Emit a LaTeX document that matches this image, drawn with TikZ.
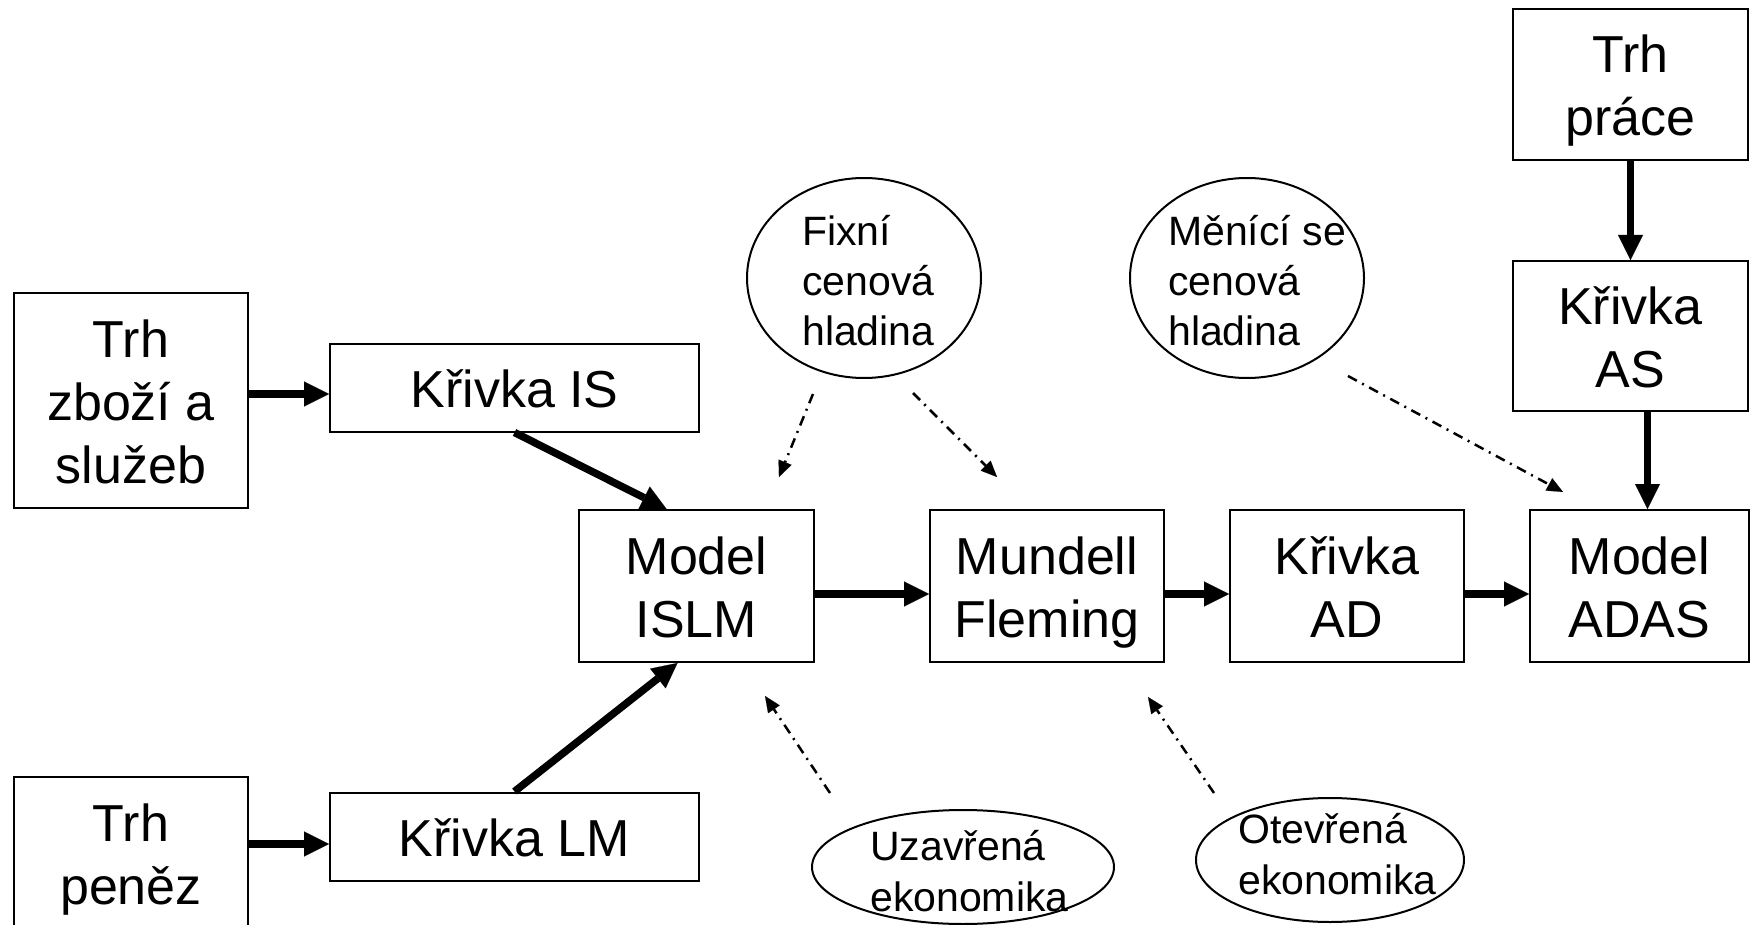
\documentclass[tikz,border=0pt]{standalone}
\usepackage{fontspec}
\setmainfont{Liberation Sans}
\usetikzlibrary{arrows.meta,shapes.geometric,calc}
\newcommand\boxstrut{\vrule height 51pt depth 12pt width 0pt}
\newcommand\ovstrut{\vrule height 40pt depth 10pt width 0pt}
\begin{document}
\begin{tikzpicture}[x=1pt,y=-1pt,
  box/.style={draw, line width=2pt, inner sep=0pt, align=center, font=\fontsize{52}{63}\selectfont},
  oval/.style={draw, ellipse, line width=2pt, inner sep=0pt},
  otext/.style={inner sep=0pt, anchor=west, align=left, font=\fontsize{41}{50}\selectfont},
  bigarrow/.style={line width=7.5pt, -{Triangle[length=25pt,width=25pt,line width=0.1pt]}},
  dotarrow/.style={line width=2.5pt, dash pattern=on 10pt off 6pt on 2pt off 6pt, -{Triangle[length=16pt,width=14pt,line width=0.1pt]}},
]
\useasboundingbox (0,0) rectangle (1751,925);

% boxes
\node[box, minimum width=234pt, minimum height=215pt] (tz) at (131,400.5) {\boxstrut Trh\\ \boxstrut zboží a\\ \boxstrut služeb};
\node[box, minimum width=234pt, minimum height=152pt] (tp) at (131,853) {\boxstrut Trh\\ \boxstrut peněz};
\node[box, minimum width=369pt, minimum height=88pt] (is) at (514.5,387.5) {\boxstrut Křivka IS};
\node[box, minimum width=369pt, minimum height=88pt] (lm) at (514.5,836.5) {\boxstrut Křivka LM};
\node[box, minimum width=235pt, minimum height=152pt] (islm) at (696.5,586) {\boxstrut Model\\ \boxstrut ISLM};
\node[box, minimum width=234pt, minimum height=152pt] (mf) at (1047,586) {\boxstrut Mundell\\ \boxstrut Fleming};
\node[box, minimum width=234pt, minimum height=152pt] (ad) at (1347,586) {\boxstrut Křivka\\ \boxstrut AD};
\node[box, minimum width=219pt, minimum height=152pt] (adas) at (1639.5,586) {\boxstrut Model\\ \boxstrut ADAS};
\node[box, minimum width=235pt, minimum height=151pt] (tpr) at (1630.5,84.5) {\boxstrut Trh\\ \boxstrut práce};
\node[box, minimum width=235pt, minimum height=150pt] (as) at (1630.5,336) {\boxstrut Křivka\\ \boxstrut AS};

% ovals
\node[oval, minimum width=234pt, minimum height=200pt] (fix) at (864,278) {};
\node[oval, minimum width=234pt, minimum height=200pt] (men) at (1247,278) {};
\node[oval, minimum width=302pt, minimum height=114pt] (uz) at (963,867) {};
\node[oval, minimum width=268pt, minimum height=124pt] (ot) at (1330,860) {};

\node[otext] (fixt) at (802,280) {\ovstrut Fixní\\ \ovstrut cenová\\ \ovstrut hladina};
\node[otext] (ment) at (1168,280) {\ovstrut Měnící se\\ \ovstrut cenová\\ \ovstrut hladina};
\node[otext, font=\fontsize{41}{45}\selectfont] (uzt) at (870,870.5) {\ovstrut Uzavřená\\ \ovstrut ekonomika};
\node[otext, font=\fontsize{41}{45}\selectfont] (ott) at (1238,854) {\ovstrut Otevřená\\ \ovstrut ekonomika};

% thick arrows
\draw[bigarrow] ($(tz.east)+(0,-6.5)$) -- ($(is.west)+(0,6.5)$);
\draw[bigarrow] ($(tp.east)+(0,-9)$) -- ($(lm.west)+(0,7.5)$);
\draw[bigarrow] (is.south) -- ($(islm.north)+(-30,0)$);
\draw[bigarrow] (lm.north) -- ($(islm.south)+(-19,0)$);
\draw[bigarrow] ($(islm.east)+(0,8)$) -- ($(mf.west)+(0,8)$);
\draw[bigarrow] ($(mf.east)+(0,8)$) -- ($(ad.west)+(0,8)$);
\draw[bigarrow] ($(ad.east)+(0,8)$) -- ($(adas.west)+(0,8)$);
\draw[bigarrow] (tpr.south) -- (as.north);
\draw[bigarrow] ($(as.south)+(17,0)$) -- ($(adas.north)+(8,0)$);

% dash-dot arrows
\coordinate (f1s) at (813,394);
\coordinate (f1e) at (779,477);
\coordinate (f2s) at (913,393);
\coordinate (f2e) at (997,477);
\coordinate (m1s) at (1348,376);
\coordinate (m1e) at (1563,492);
\coordinate (u1s) at (830,793);
\coordinate (u1e) at (765,696);
\coordinate (o1s) at (1214,793);
\coordinate (o1e) at (1148,697);
\draw[dotarrow] (f1s) -- (f1e);
\draw[dotarrow] (f2s) -- (f2e);
\draw[dotarrow] (m1s) -- (m1e);
\draw[dotarrow] (u1s) -- (u1e);
\draw[dotarrow] (o1s) -- (o1e);
\end{tikzpicture}
\end{document}
